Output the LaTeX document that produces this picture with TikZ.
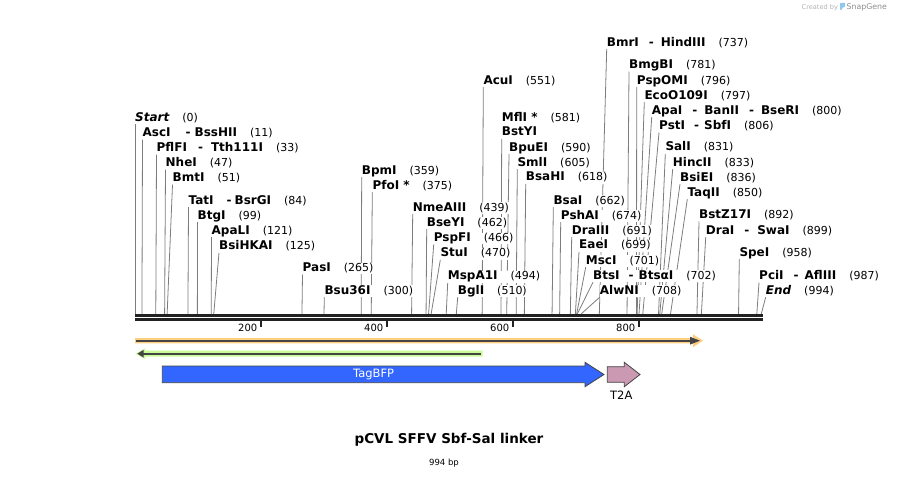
\documentclass[tikz,border=0pt]{standalone}
\usepackage{fontspec}
\setmainfont{DejaVu Sans}
\usetikzlibrary{backgrounds}

\definecolor{leadgray}{RGB}{125,125,125}
\definecolor{bargray}{RGB}{34,34,34}
\definecolor{featline}{RGB}{68,68,68}
\definecolor{bfpblue}{RGB}{51,102,255}
\definecolor{t2apink}{RGB}{204,153,178}
\definecolor{orangepale}{RGB}{255,206,128}
\definecolor{greenpale}{RGB}{200,250,150}
\definecolor{snapblue}{RGB}{140,200,240}

\newcommand{\numfont}{\fontsize{11}{13}\selectfont}
\newcommand{\enzlbl}[2]{{\bfseries #1}\hspace{13pt}{\numfont(#2)}}
\newcommand{\dsh}[2]{\hspace{#1pt}-\hspace{#2pt}}

\begin{document}
\begin{tikzpicture}
  [x=1pt,y=-1pt,every node/.style={inner sep=0pt},
   enz/.style={anchor=base west,fill=white,font=\fontsize{12}{14}\selectfont,text depth=3pt},
   leader/.style={draw=leadgray,line width=0.8pt}]
  \useasboundingbox (0,0) rectangle (899,477);

  % cut sites on the bar
  \foreach \p in {0,11,33,47,51,84,99,121,125,265,300,359,375,439,462,466,470,494,510,551,581,590,605,618,662,674,691,699,701,702,708,737,781,796,797,800,806,831,833,836,850,892,899,958,987,994}
    \coordinate (p\p) at ({135+0.63*\p},314);

  % enzyme labels
  \node (start)[enz] at (135,121) {\enzlbl{\itshape Start}{0}};
  \node (asci)[enz] at (142.5,136.5) {\enzlbl{AscI\dsh{15}{4}BssHII}{11}};
  \node (pflfi)[enz] at (156.5,151.5) {\enzlbl{PflFI\dsh{11}{8}Tth111I}{33}};
  \node (nhei)[enz] at (165.5,166.5) {\enzlbl{NheI}{47}};
  \node (bmti)[enz] at (172.5,181.5) {\enzlbl{BmtI}{51}};
  \node (tati)[enz] at (188.5,204) {\enzlbl{TatI\dsh{13}{3}BsrGI}{84}};
  \node (btgi)[enz] at (197.5,219) {\enzlbl{BtgI}{99}};
  \node (apali)[enz] at (211.5,234) {\enzlbl{ApaLI}{121}};
  \node (bsihkai)[enz] at (219,249.5) {\enzlbl{BsiHKAI}{125}};
  \node (pasi)[enz] at (302.5,271.3) {\enzlbl{PasI}{265}};
  \node (bsu36i)[enz] at (324.3,294) {\enzlbl{Bsu36I}{300}};
  \node (bpmi)[enz] at (361.7,174) {\enzlbl{BpmI}{359}};
  \node (pfoi)[enz] at (372.3,189) {\enzlbl{PfoI *}{375}};
  \node (nmeaiii)[enz] at (412.7,211) {\enzlbl{NmeAIII}{439}};
  \node (bseyi)[enz] at (426.7,226) {\enzlbl{BseYI}{462}};
  \node (pspfi)[enz] at (433.7,241.3) {\enzlbl{PspFI}{466}};
  \node (stui)[enz] at (440.3,256.7) {\enzlbl{StuI}{470}};
  \node (mspa1i)[enz] at (447.7,279.7) {\enzlbl{MspA1I}{494}};
  \node (bgli)[enz] at (457.7,294) {\enzlbl{BglI}{510}};
  \node (acui)[enz] at (483.3,84) {\enzlbl{AcuI}{551}};
  \node (mfli)[enz] at (501.7,121) {\enzlbl{MflI *}{581}};
  \node (bstyi)[enz] at (501.7,135.7) {\bfseries BstYI};
  \node (bpuei)[enz] at (509,151) {\enzlbl{BpuEI}{590}};
  \node (smli)[enz] at (517.3,166) {\enzlbl{SmlI}{605}};
  \node (bsahi)[enz] at (525.7,180.7) {\enzlbl{BsaHI}{618}};
  \node (bsai)[enz] at (553.3,204) {\enzlbl{BsaI}{662}};
  \node (pshai)[enz] at (560.7,219) {\enzlbl{PshAI}{674}};
  \node (draiii)[enz] at (571.7,234) {\enzlbl{DraIII}{691}};
  \node (eaei)[enz] at (579,248.7) {\enzlbl{EaeI}{699}};
  \node (msci)[enz] at (585.7,264) {\enzlbl{MscI}{701}};
  \node (btsi)[enz] at (593,279) {\enzlbl{BtsI\dsh{9}{5}BtsαI}{702}};
  \node (alwni)[enz] at (599.7,294) {\enzlbl{AlwNI}{708}};
  \node (bmri)[enz] at (606.7,46) {\enzlbl{BmrI\dsh{10}{7}HindIII}{737}};
  \node (bmgbi)[enz] at (629,68.3) {\enzlbl{BmgBI}{781}};
  \node (pspomi)[enz] at (636.7,84) {\enzlbl{PspOMI}{796}};
  \node (eco)[enz] at (644.3,99) {\enzlbl{EcoO109I}{797}};
  \node (apai)[enz] at (651.7,114) {\enzlbl{ApaI\dsh{10}{7}BanII\dsh{10}{7}BseRI}{800}};
  \node (psti)[enz] at (659,129.3) {\enzlbl{PstI\dsh{9}{5}SbfI}{806}};
  \node (sali)[enz] at (665.3,150.7) {\enzlbl{SalI}{831}};
  \node (hincii)[enz] at (672.7,166) {\enzlbl{HincII}{833}};
  \node (bsiei)[enz] at (680,181) {\enzlbl{BsiEI}{836}};
  \node (taqii)[enz] at (687.3,196) {\enzlbl{TaqII}{850}};
  \node (bstz)[enz] at (699,218.3) {\enzlbl{BstZ17I}{892}};
  \node (drai)[enz] at (705.7,234) {\enzlbl{DraI\dsh{10}{8}SwaI}{899}};
  \node (spei)[enz] at (739.3,256) {\enzlbl{SpeI}{958}};
  \node (pcii)[enz] at (759,279.3) {\enzlbl{PciI\dsh{10}{6}AflIII}{987}};
  \node (endl)[enz] at (765.7,294) {\enzlbl{\itshape End}{994}};

  \begin{scope}[on background layer]
    \foreach \from/\to in {start/p0,asci/p11,pflfi/p33,nhei/p47,bmti/p51,tati/p84,btgi/p99,apali/p121,bsihkai/p125,pasi/p265,bsu36i/p300,bpmi/p359,pfoi/p375,nmeaiii/p439,bseyi/p462,pspfi/p466,stui/p470,mspa1i/p494,bgli/p510,acui/p551,bstyi/p581,bpuei/p590,smli/p605,bsahi/p618,bsai/p662,pshai/p674,draiii/p691,eaei/p699,msci/p701,btsi/p702,alwni/p708,bmri/p737,bmgbi/p781,pspomi/p796,eco/p797,apai/p800,psti/p806,sali/p831,hincii/p833,bsiei/p836,taqii/p850,bstz/p892,drai/p899,spei/p958,pcii/p987,endl/p994}
      \draw[leader] (\from.south west) -- (\to);
  \end{scope}

  % sequence bar and ruler
  \draw[bargray,line width=2.7pt] (135,315.3) -- (763.3,315.3);
  \draw[bargray,line width=2.6pt] (135,319.6) -- (763.3,319.6);
  \foreach \t in {200,400,600,800} {
    \draw[bargray,line width=2.4pt] ({135+0.63*\t},320.7) -- ({135+0.63*\t},327.3);
    \node (t\t)[anchor=base east,font=\fontsize{10}{12}\selectfont] at ({135+0.63*\t-3.5},331) {\t};
  }

  % features
  \fill[orangepale] (135,338) -- (693,338) -- (693,334.2) -- (703,340.7) -- (693,347.2) -- (693,343.4) -- (135,343.4) -- cycle;
  \draw[featline,line width=1.6pt] (136,340.7) -- (692,340.7);
  \fill[featline] (690,336.8) -- (700,340.7) -- (690,344.6) -- cycle;

  \fill[greenpale] (482.7,350.7) -- (145,350.7) -- (145,348.3) -- (135.7,353.7) -- (145,359.1) -- (145,356.7) -- (482.7,356.7) -- cycle;
  \draw[featline,line width=1.6pt] (481,353.7) -- (141,353.7);
  \fill[featline] (143.5,349.9) -- (137.3,353.7) -- (143.5,357.5) -- cycle;

  \draw[featline,line width=0.8pt,fill=bfpblue] (162.3,366) -- (585,366) -- (585,362.3) -- (604,374.5) -- (585,386.7) -- (585,382.7) -- (162.3,382.7) -- cycle;
  \node (tagbfp)[anchor=base,text=white,font=\fontsize{11.5}{13}\selectfont] at (373.6,377.7) {TagBFP};
  \draw[featline,line width=0.8pt,fill=t2apink] (607.3,366.7) -- (624.3,366.7) -- (624.3,362.3) -- (640,374.5) -- (624.3,386.7) -- (624.3,382.3) -- (607.3,382.3) -- cycle;
  \node (t2a)[anchor=base,font=\fontsize{11.5}{13}\selectfont] at (621.3,399.3) {T2A};

  % title
  \node (title)[anchor=base,font=\bfseries\fontsize{13.5}{16}\selectfont] at (449,443.7) {pCVL SFFV Sbf-Sal linker};
  \node (size)[anchor=base,font=\fontsize{8.5}{10}\selectfont] at (444,465) {994 bp};

  % credit
  \node (made)[anchor=base west,text=black!30,font=\fontsize{6.6}{8}\selectfont] at (801.5,9.5) {Created by};
  \fill[snapblue,rounded corners=0.8pt] (840,2.8) -- (845.2,2.8) -- (845.2,7) -- (842.2,7.6) -- (842.2,10) -- (840,10) -- cycle;
  \node (snap)[anchor=base west,text=black!45,font=\fontsize{7.8}{9}\selectfont] at (846.5,9.5) {SnapGene};
\end{tikzpicture}
\end{document}
